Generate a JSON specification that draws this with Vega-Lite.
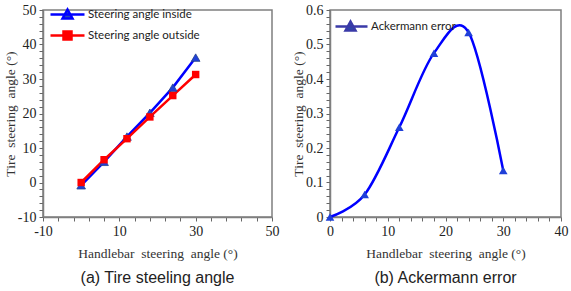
{
  "$schema": "https://vega.github.io/schema/vega-lite/v6.json",
  "padding": {"left": 2, "top": 2, "right": 2, "bottom": 2},
  "background": "white",
  "spacing": 10,
  "resolve": {"scale": {"color": "independent", "shape": "independent", "fill": "independent", "stroke": "independent"}},
  "config": {
    "view": {"stroke": "#7f7f7f", "strokeWidth": 1.5},
    "axis": {
      "labelFont": "Liberation Serif", "labelFontSize": 14, "labelColor": "#222222",
      "titleFont": "Liberation Serif", "titleFontSize": 13.5, "titleFontWeight": "normal", "titleColor": "#333333",
      "domainColor": "#7f7f7f", "domainWidth": 1.5, "tickColor": "#666666", "tickSize": 4, "tickWidth": 1,
      "grid": false, "labelOverlap": false, "labelFlush": false, "labelPadding": 3
    },
    "axisX": {"titlePadding": 8},
    "axisY": {"titlePadding": 0},
    "legend": {"labelFont": "Lato", "labelFontSize": 11.5, "labelColor": "#222222", "padding": 0, "symbolSize": 100, "symbolStrokeWidth": 2.5, "symbolOpacity": 1},
    "title": {"font": "Liberation Sans", "fontSize": 16, "fontWeight": "normal", "color": "#222222"}
  },
  "hconcat": [
    {
      "width": 229, "height": 207,
      "title": {"text": "(a) Tire steeling angle", "orient": "bottom", "offset": 10},
      "data": {"values": [
        {"h": 0, "angle": -0.8, "series": "Steering angle inside"},
        {"h": 6, "angle": 6.0, "series": "Steering angle inside"},
        {"h": 12, "angle": 13.3, "series": "Steering angle inside"},
        {"h": 18, "angle": 20.2, "series": "Steering angle inside"},
        {"h": 24, "angle": 27.5, "series": "Steering angle inside"},
        {"h": 30, "angle": 36.2, "series": "Steering angle inside"},
        {"h": 0, "angle": 0.0, "series": "Steering angle outside"},
        {"h": 6, "angle": 6.6, "series": "Steering angle outside"},
        {"h": 12, "angle": 12.7, "series": "Steering angle outside"},
        {"h": 18, "angle": 19.0, "series": "Steering angle outside"},
        {"h": 24, "angle": 25.2, "series": "Steering angle outside"},
        {"h": 30, "angle": 31.3, "series": "Steering angle outside"}
      ]},
      "encoding": {
        "x": {"field": "h", "type": "quantitative", "title": "Handlebar\u00a0 steering\u00a0 angle (°)",
          "scale": {"domain": [-10, 50], "nice": false},
          "axis": {"values": [-10,-6,-2,2,6,10,14,18,22,26,30,34,38,42,46,50],
            "labelExpr": "(datum.value + 10) % 20 === 0 ? toString(datum.value) : ''"}},
        "y": {"field": "angle", "type": "quantitative", "title": "Tire\u00a0 steering\u00a0 angle (°)",
          "scale": {"domain": [-10, 50], "nice": false},
          "axis": {"values": [-10,-8,-6,-4,-2,0,2,4,6,8,10,12,14,16,18,20,22,24,26,28,30,32,34,36,38,40,42,44,46,48,50],
            "labelExpr": "datum.value % 10 === 0 ? toString(datum.value) : ''"}}
      },
      "layer": [
        {
          "transform": [{"filter": "datum.series === 'Steering angle inside'"}],
          "mark": {"type": "line", "strokeWidth": 2.5, "color": "#0000ff"},
          "encoding": {}
        },
        {
          "transform": [{"filter": "datum.series === 'Steering angle outside'"}],
          "mark": {"type": "line", "strokeWidth": 2.5, "color": "#ff0000"},
          "encoding": {}
        },
        {
          "transform": [{"filter": "datum.series === 'Steering angle inside'"}],
          "mark": {"type": "point", "filled": true, "opacity": 1, "size": 75, "shape": "triangle-up", "color": "#2040d8", "stroke": "#28448c", "strokeWidth": 0.8}
        },
        {
          "transform": [{"filter": "datum.series === 'Steering angle outside'"}],
          "mark": {"type": "point", "filled": true, "opacity": 1, "size": 55, "shape": "square", "color": "#ff0000"}
        },
        {
          "mark": {"type": "point", "filled": true, "opacity": 0},
          "encoding": {
            "fill": {"field": "series", "type": "nominal",
              "scale": {"domain": ["Steering angle inside", "Steering angle outside"], "range": ["#2a48b8", "#ff0000"]},
              "legend": {"title": null, "orient": "top-left", "offset": -2, "labelOffset": 34, "rowPadding": 2}},
            "stroke": {"field": "series", "type": "nominal",
              "scale": {"domain": ["Steering angle inside", "Steering angle outside"], "range": ["#0000ff", "#ff0000"]},
              "legend": {"title": null, "orient": "top-left", "offset": -2, "labelOffset": 34, "rowPadding": 2}},
            "shape": {"field": "series", "type": "nominal",
              "scale": {"domain": ["Steering angle inside", "Steering angle outside"], "range": ["M0.6,0H7.4M3,0.8L4,-1L5,0.8Z", "M0.6,0H7.4M3.2,-0.8H4.8V0.8H3.2Z"]},
              "legend": {"title": null, "orient": "top-left", "offset": -2, "labelOffset": 34, "rowPadding": 2}}
          }
        }
      ]
    },
    {
      "width": 231, "height": 207,
      "title": {"text": "(b) Ackermann error", "orient": "bottom", "offset": 10},
      "data": {"values": [
        {"h": 0, "err": 0.0, "series": "Ackermann error"},
        {"h": 6, "err": 0.065, "series": "Ackermann error"},
        {"h": 12, "err": 0.26, "series": "Ackermann error"},
        {"h": 18, "err": 0.475, "series": "Ackermann error"},
        {"h": 24, "err": 0.535, "series": "Ackermann error"},
        {"h": 30, "err": 0.135, "series": "Ackermann error"}
      ]},
      "encoding": {
        "x": {"field": "h", "type": "quantitative", "title": "Handlebar\u00a0 steering\u00a0 angle (°)",
          "scale": {"domain": [0, 40], "nice": false},
          "axis": {"values": [0,2,4,6,8,10,12,14,16,18,20,22,24,26,28,30,32,34,36,38,40],
            "labelExpr": "datum.value % 10 === 0 ? toString(datum.value) : ''"}},
        "y": {"field": "err", "type": "quantitative", "title": "Tire\u00a0 steering\u00a0 angle (°)",
          "scale": {"domain": [0, 0.6], "nice": false},
          "axis": {"values": [0,0.02,0.04,0.06,0.08,0.1,0.12,0.14,0.16,0.18,0.2,0.22,0.24,0.26,0.28,0.3,0.32,0.34,0.36,0.38,0.4,0.42,0.44,0.46,0.48,0.5,0.52,0.54,0.56,0.58,0.6],
            "labelExpr": "abs(datum.value * 10 - round(datum.value * 10)) < 0.000001 ? format(datum.value, '.1~f') : ''"}}
      },
      "layer": [
        {
          "mark": {"type": "line", "strokeWidth": 2.5, "interpolate": "cardinal", "color": "#0000ff"},
          "encoding": {}
        },
        {
          "mark": {"type": "point", "filled": true, "opacity": 1, "size": 75, "shape": "triangle-up", "color": "#1f3fd8"}
        },
        {
          "mark": {"type": "point", "filled": true, "opacity": 0},
          "encoding": {
            "fill": {"field": "series", "type": "nominal",
              "scale": {"domain": ["Ackermann error"], "range": ["#2a4aa8"]},
              "legend": {"title": null, "orient": "top-left", "offset": 10, "labelOffset": 18}},
            "stroke": {"field": "series", "type": "nominal",
              "scale": {"domain": ["Ackermann error"], "range": ["#3a3aa8"]},
              "legend": {"title": null, "orient": "top-left", "offset": 10, "labelOffset": 18}},
            "shape": {"field": "series", "type": "nominal",
              "scale": {"domain": ["Ackermann error"], "range": ["M-2.2,0H4.2M-0.2,0.8L0.8,-1L1.8,0.8Z"]},
              "legend": {"title": null, "orient": "top-left", "offset": 10, "labelOffset": 18}}
          }
        }
      ]
    }
  ]
}
